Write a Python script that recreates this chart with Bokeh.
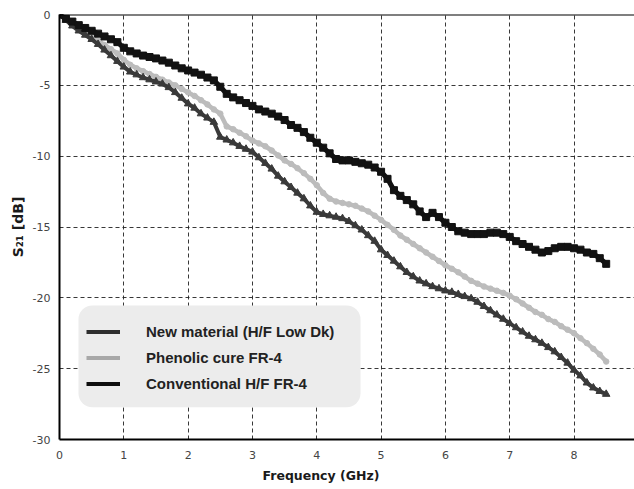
from bokeh.plotting import figure
from bokeh.models import Range1d, FixedTicker, Span, Legend, LegendItem, Title, BoxAnnotation
from bokeh.embed import file_html
from bokeh.resources import INLINE

# ---------------- data ----------------
freq = [round(0.1 * i, 1) for i in range(86)]  # 0.0 .. 8.5 GHz

conventional = [
    0.0, -0.3, -0.5, -0.75, -0.95, -1.15, -1.35, -1.55, -1.75, -1.95,
    -2.35, -2.6, -2.75, -2.9, -3.0, -3.1, -3.25, -3.4, -3.6, -3.8,
    -3.95, -4.1, -4.25, -4.45, -4.65, -5.1, -5.6, -5.85, -6.05, -6.25,
    -6.45, -6.7, -6.85, -7.0, -7.2, -7.45, -7.8, -8.0, -8.3, -8.7,
    -9.05, -9.4, -9.8, -10.2, -10.3, -10.3, -10.4, -10.5, -10.6, -10.8,
    -11.1, -11.6, -12.4, -12.8, -13.1, -13.4, -13.9, -14.3, -14.0, -14.3,
    -14.7, -15.0, -15.3, -15.4, -15.5, -15.5, -15.5, -15.4, -15.4, -15.5,
    -15.7, -16.0, -16.2, -16.4, -16.6, -16.8, -16.7, -16.5, -16.4, -16.4,
    -16.5, -16.6, -16.8, -16.9, -17.2, -17.6,
]

phenolic = [
    0.0, -0.35, -0.65, -0.95, -1.25, -1.55, -1.85, -2.15, -2.45, -2.75,
    -3.2, -3.55, -3.8, -4.0, -4.2, -4.4, -4.6, -4.8, -5.0, -5.25,
    -5.5, -5.75, -6.05, -6.35, -6.7, -7.0, -7.9, -8.1, -8.35, -8.6,
    -8.9, -9.1, -9.3, -9.6, -9.95, -10.3, -10.55, -10.85, -11.2, -11.6,
    -12.05, -12.6, -13.0, -13.2, -13.3, -13.4, -13.5, -13.7, -13.9, -14.2,
    -14.5, -14.85, -15.2, -15.6, -15.9, -16.2, -16.5, -16.8, -17.1, -17.4,
    -17.7, -17.95, -18.2, -18.5, -18.8, -19.0, -19.2, -19.35, -19.5, -19.65,
    -19.85, -20.1, -20.4, -20.7, -21.0, -21.2, -21.5, -21.7, -22.0, -22.25,
    -22.5, -22.85, -23.2, -23.6, -24.0, -24.5,
]

new_material = [
    0.0, -0.4, -0.8, -1.15, -1.45, -1.75, -2.1, -2.5, -2.9, -3.3,
    -3.7, -4.05, -4.25, -4.45, -4.6, -4.75, -4.9, -5.15, -5.5, -5.9,
    -6.3, -6.6, -7.0, -7.3, -7.6, -8.65, -8.85, -9.05, -9.3, -9.5,
    -9.7, -10.1, -10.5, -10.9, -11.4, -11.8, -12.2, -12.6, -13.0, -13.5,
    -13.95, -14.1, -14.2, -14.3, -14.4, -14.6, -14.9, -15.2, -15.6, -16.0,
    -16.6, -17.0, -17.4, -17.8, -18.2, -18.5, -18.8, -19.0, -19.2, -19.35,
    -19.5, -19.6, -19.75, -19.9, -20.05, -20.3, -20.6, -20.9, -21.2, -21.5,
    -21.8, -22.1, -22.4, -22.7, -22.95, -23.2, -23.5, -23.8, -24.2, -24.6,
    -25.1, -25.5, -26.0, -26.35, -26.6, -26.8,
]

series_names = ["New material (H/F Low Dk)", "Phenolic cure FR-4", "Conventional H/F FR-4"]

x_ticks = [0, 1, 2, 3, 4, 5, 6, 7, 8]
x_tick_labels = ["0", "1", "2", "3", "4", "5", "6", "7", "8"]
y_ticks = [0, -5, -10, -15, -20, -25, -30]
y_tick_labels = ["0", "-5", "-10", "-15", "-20", "-25", "-30"]
x_title = "Frequency (GHz)"
y_title = "S\u2082\u2081 [dB]"

# ---------------- figure ----------------
p = figure(width=634, height=489, output_backend="svg", toolbar_location=None,
           x_range=Range1d(0, 8.94), y_range=Range1d(-30, 0),
           min_border_left=59, min_border_right=0, min_border_top=14, min_border_bottom=50)
p.outline_line_color = None
p.background_fill_color = "white"
p.border_fill_color = "white"

# grid
for g in (p.xgrid, p.ygrid):
    g.grid_line_color = "#222222"
    g.grid_line_dash = "4 3"
    g.grid_line_width = 1
    g.grid_line_alpha = 0.9
p.xgrid.ticker = FixedTicker(ticks=x_ticks)
p.ygrid.ticker = FixedTicker(ticks=y_ticks)

# axes
p.xaxis.ticker = FixedTicker(ticks=x_ticks)
p.yaxis.ticker = FixedTicker(ticks=y_ticks)
p.xaxis.major_label_overrides = dict(zip(x_ticks, x_tick_labels))
p.yaxis.major_label_overrides = dict(zip(y_ticks, y_tick_labels))
for ax in (p.xaxis, p.yaxis):
    ax.axis_line_color = "black"
    ax.axis_line_width = 2
    ax.major_tick_line_color = None
    ax.minor_tick_line_color = None
    ax.major_tick_out = 0
    ax.major_tick_in = 0
    ax.major_label_text_font = "DejaVu Sans"
    ax.major_label_text_font_size = "11px"
    ax.major_label_text_color = "#444444"
    ax.axis_label_text_font = "DejaVu Sans"
    ax.axis_label_text_font_style = "bold"
    ax.axis_label_text_color = "#1a1a1a"
p.xaxis.major_label_standoff = 11
p.yaxis.major_label_standoff = 9
p.yaxis.axis_label = y_title
p.yaxis.axis_label_text_font_size = "14px"
p.yaxis.axis_label_standoff = 4

# x-axis title, centred on the whole picture (as in the reference)
p.add_layout(Title(text=x_title, align="left", offset=203, standoff=9,
                   text_font="DejaVu Sans", text_font_style="bold", text_font_size="12.5px",
                   text_color="#1a1a1a"), "below")

# top border line
p.add_layout(Span(location=0, dimension="width", line_color="black", line_width=2))

# ---------------- curves ----------------
gray_c = "#bcbcbc"
dark_c = "#3a3a3a"
black_c = "#121212"

p.line(freq, phenolic, line_color=gray_c, line_width=4.5)
p.scatter(freq, phenolic, marker="circle", size=5.5, fill_color=gray_c, line_color=gray_c)

p.line(freq, new_material, line_color=dark_c, line_width=4)
p.scatter(freq, new_material, marker="triangle", size=7.5, fill_color=dark_c, line_color=dark_c)

p.line(freq, conventional, line_color=black_c, line_width=5)
p.scatter(freq, conventional, marker="square", size=7, fill_color=black_c, line_color=black_c)

# rounded legend panel
legend_panel = BoxAnnotation(left=0.295, right=4.68, top=-20.54, bottom=-27.73,
                             fill_color="#ececec", fill_alpha=1.0, line_color=None)
try:
    legend_panel.border_radius = 14
except Exception:
    pass
p.add_layout(legend_panel)

# legend-only renderers (thick short lines)
lg_new = p.line([None], [None], line_color="#2e2e2e", line_width=4)
lg_ph = p.line([None], [None], line_color="#a8a8a8", line_width=4)
lg_conv = p.line([None], [None], line_color="#0e0e0e", line_width=4)

legend = Legend(items=[
    LegendItem(label=series_names[0], renderers=[lg_new]),
    LegendItem(label=series_names[1], renderers=[lg_ph]),
    LegendItem(label=series_names[2], renderers=[lg_conv]),
], location=(27, 45))
legend.background_fill_alpha = 0.0
legend.border_line_color = None
legend.label_text_font = "Liberation Sans"
legend.label_text_font_style = "bold"
legend.label_text_font_size = "15px"
legend.label_text_color = "#222222"
legend.glyph_width = 34
legend.glyph_height = 21
legend.label_height = 21
legend.label_standoff = 26
legend.spacing = 5
legend.padding = 26
legend.margin = 0
p.add_layout(legend, "center")

open("out.html", "w").write(file_html(p, INLINE))
